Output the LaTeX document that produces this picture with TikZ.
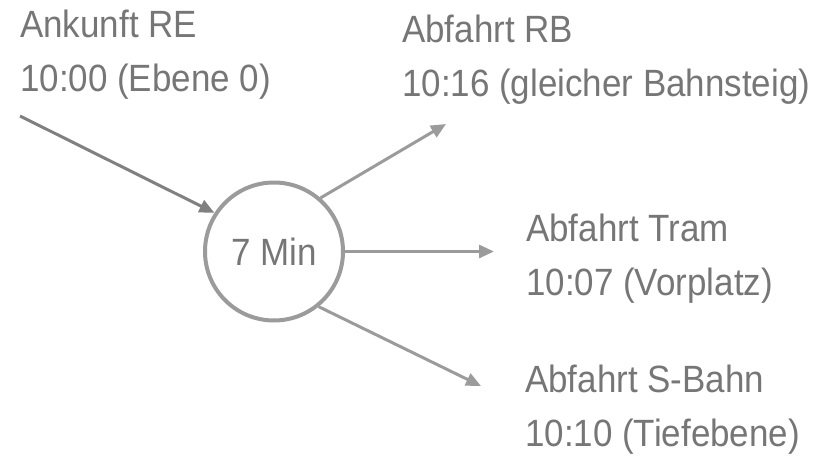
\documentclass[tikz,border=0pt]{standalone}
\usepackage{fontspec}
\setmainfont{Liberation Sans}[FakeStretch=0.92]
\usetikzlibrary{arrows.meta}
\definecolor{txtgray}{RGB}{118,118,118}
\definecolor{linegray}{RGB}{155,155,155}
\definecolor{ingray}{RGB}{128,128,128}
\tikzset{
  lbl/.style={anchor=base west, inner sep=0pt, align=left, text=txtgray,
    font=\fontsize{38}{54}\selectfont},
  hub/.style={circle, draw=linegray, line width=4pt, minimum size=138pt,
    inner sep=0pt, text=txtgray, font=\fontsize{38}{46}\selectfont},
  conn/.style={draw=linegray, line width=3pt,
    -{Triangle[length=15pt,width=13pt]}},
  inconn/.style={draw=ingray, line width=3pt,
    -{Triangle[length=15pt,width=13pt]}}
}
\begin{document}
\begin{tikzpicture}[x=1pt,y=-1pt]
\useasboundingbox (0,0) rectangle (823,458);
\node[lbl] (ank) at (20,91.5) {Ankunft RE\\10:00 (Ebene 0)};
\node[lbl] (rb) at (402,96.5) {Abfahrt RB\\10:16 (gleicher Bahnsteig)};
\node[lbl] (tram) at (526,295) {Abfahrt Tram\\10:07 (Vorplatz)};
\node[lbl] (sb) at (525,446.5) {Abfahrt S-Bahn\\10:10 (Tiefebene)};
\node[hub] (c) at (274,251.5) {7 Min};
\coordinate (inS) at (20,116);
\coordinate (rbT) at (446,124);
\coordinate (tramT) at (494,251.5);
\coordinate (sbT) at (481,386);
\draw[inconn] (inS) -- (c.147);
\draw[conn] (c.49) -- (rbT);
\draw[conn] (c.east) -- (tramT);
\draw[conn] (c.-51) -- (sbT);
\end{tikzpicture}
\end{document}
